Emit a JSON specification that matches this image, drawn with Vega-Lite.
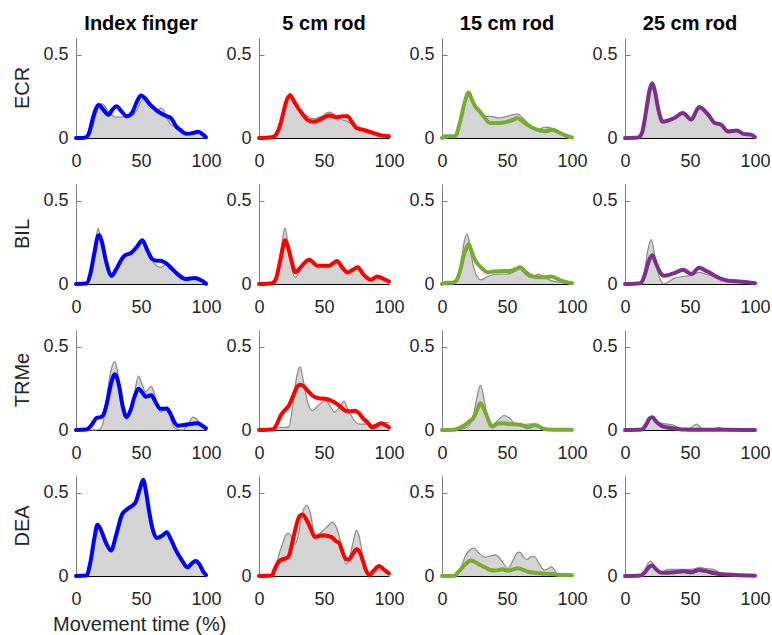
{
"$schema":"https://vega.github.io/schema/vega-lite/v6.json",
"padding":{"left":13,"top":14,"right":0,"bottom":0},
"data":{"values":[
{"m":"ECR","c":"Index finger","x":0,"g":0,"v":0},{"m":"ECR","c":"Index finger","x":5,"g":0,"v":0},{"m":"ECR","c":"Index finger","x":8,"g":0,"v":0.005},{"m":"ECR","c":"Index finger","x":10,"g":0.01,"v":0.03},{"m":"ECR","c":"Index finger","x":13,"g":0.07,"v":0.12},{"m":"ECR","c":"Index finger","x":15,"g":0.13,"v":0.17},{"m":"ECR","c":"Index finger","x":17.5,"g":0.19,"v":0.2},{"m":"ECR","c":"Index finger","x":20,"g":0.205,"v":0.18},{"m":"ECR","c":"Index finger","x":25,"g":0.16,"v":0.14},{"m":"ECR","c":"Index finger","x":28,"g":0.135,"v":0.17},{"m":"ECR","c":"Index finger","x":31,"g":0.125,"v":0.19},{"m":"ECR","c":"Index finger","x":35,"g":0.125,"v":0.16},{"m":"ECR","c":"Index finger","x":39,"g":0.13,"v":0.13},{"m":"ECR","c":"Index finger","x":43,"g":0.135,"v":0.15},{"m":"ECR","c":"Index finger","x":47,"g":0.17,"v":0.22},{"m":"ECR","c":"Index finger","x":50,"g":0.22,"v":0.255},{"m":"ECR","c":"Index finger","x":53,"g":0.24,"v":0.24},{"m":"ECR","c":"Index finger","x":57,"g":0.19,"v":0.2},{"m":"ECR","c":"Index finger","x":60,"g":0.17,"v":0.18},{"m":"ECR","c":"Index finger","x":63,"g":0.17,"v":0.16},{"m":"ECR","c":"Index finger","x":66,"g":0.18,"v":0.145},{"m":"ECR","c":"Index finger","x":70,"g":0.12,"v":0.13},{"m":"ECR","c":"Index finger","x":73,"g":0.08,"v":0.12},{"m":"ECR","c":"Index finger","x":77,"g":0.065,"v":0.07},{"m":"ECR","c":"Index finger","x":80,"g":0.045,"v":0.05},{"m":"ECR","c":"Index finger","x":85,"g":0.025,"v":0.025},{"m":"ECR","c":"Index finger","x":90,"g":0.03,"v":0.03},{"m":"ECR","c":"Index finger","x":94,"g":0.035,"v":0.037},{"m":"ECR","c":"Index finger","x":97,"g":0.02,"v":0.025},{"m":"ECR","c":"Index finger","x":100,"g":0.005,"v":0.005},
{"m":"ECR","c":"5 cm rod","x":0,"g":0,"v":0},{"m":"ECR","c":"5 cm rod","x":10,"g":0,"v":0.005},{"m":"ECR","c":"5 cm rod","x":13,"g":0.01,"v":0.02},{"m":"ECR","c":"5 cm rod","x":16,"g":0.05,"v":0.07},{"m":"ECR","c":"5 cm rod","x":19,"g":0.15,"v":0.16},{"m":"ECR","c":"5 cm rod","x":21,"g":0.22,"v":0.22},{"m":"ECR","c":"5 cm rod","x":24,"g":0.27,"v":0.255},{"m":"ECR","c":"5 cm rod","x":27,"g":0.22,"v":0.22},{"m":"ECR","c":"5 cm rod","x":30,"g":0.18,"v":0.18},{"m":"ECR","c":"5 cm rod","x":33,"g":0.15,"v":0.15},{"m":"ECR","c":"5 cm rod","x":37,"g":0.13,"v":0.11},{"m":"ECR","c":"5 cm rod","x":42,"g":0.115,"v":0.097},{"m":"ECR","c":"5 cm rod","x":48,"g":0.13,"v":0.115},{"m":"ECR","c":"5 cm rod","x":54,"g":0.155,"v":0.135},{"m":"ECR","c":"5 cm rod","x":60,"g":0.13,"v":0.125},{"m":"ECR","c":"5 cm rod","x":64,"g":0.11,"v":0.13},{"m":"ECR","c":"5 cm rod","x":68,"g":0.1,"v":0.13},{"m":"ECR","c":"5 cm rod","x":72,"g":0.08,"v":0.09},{"m":"ECR","c":"5 cm rod","x":75,"g":0.07,"v":0.06},{"m":"ECR","c":"5 cm rod","x":80,"g":0.05,"v":0.05},{"m":"ECR","c":"5 cm rod","x":84,"g":0.035,"v":0.04},{"m":"ECR","c":"5 cm rod","x":90,"g":0.02,"v":0.025},{"m":"ECR","c":"5 cm rod","x":94,"g":0.015,"v":0.016},{"m":"ECR","c":"5 cm rod","x":100,"g":0.01,"v":0.01},
{"m":"ECR","c":"15 cm rod","x":0,"g":0,"v":0},{"m":"ECR","c":"15 cm rod","x":3,"g":0.005,"v":0.01},{"m":"ECR","c":"15 cm rod","x":7,"g":0.005,"v":0.01},{"m":"ECR","c":"15 cm rod","x":10,"g":0.01,"v":0.01},{"m":"ECR","c":"15 cm rod","x":14,"g":0.1,"v":0.1},{"m":"ECR","c":"15 cm rod","x":17,"g":0.2,"v":0.2},{"m":"ECR","c":"15 cm rod","x":20.5,"g":0.28,"v":0.273},{"m":"ECR","c":"15 cm rod","x":23,"g":0.24,"v":0.23},{"m":"ECR","c":"15 cm rod","x":26,"g":0.19,"v":0.186},{"m":"ECR","c":"15 cm rod","x":29,"g":0.16,"v":0.16},{"m":"ECR","c":"15 cm rod","x":32,"g":0.13,"v":0.13},{"m":"ECR","c":"15 cm rod","x":37,"g":0.13,"v":0.09},{"m":"ECR","c":"15 cm rod","x":44,"g":0.12,"v":0.09},{"m":"ECR","c":"15 cm rod","x":50,"g":0.13,"v":0.097},{"m":"ECR","c":"15 cm rod","x":55,"g":0.14,"v":0.11},{"m":"ECR","c":"15 cm rod","x":58,"g":0.145,"v":0.12},{"m":"ECR","c":"15 cm rod","x":62,"g":0.12,"v":0.1},{"m":"ECR","c":"15 cm rod","x":66,"g":0.09,"v":0.077},{"m":"ECR","c":"15 cm rod","x":73,"g":0.045,"v":0.05},{"m":"ECR","c":"15 cm rod","x":79,"g":0.065,"v":0.04},{"m":"ECR","c":"15 cm rod","x":85,"g":0.057,"v":0.05},{"m":"ECR","c":"15 cm rod","x":91,"g":0.028,"v":0.03},{"m":"ECR","c":"15 cm rod","x":96,"g":0.01,"v":0.012},{"m":"ECR","c":"15 cm rod","x":100,"g":0.003,"v":0.003},
{"m":"ECR","c":"25 cm rod","x":0,"g":0,"v":0},{"m":"ECR","c":"25 cm rod","x":10,"g":0.003,"v":0.003},{"m":"ECR","c":"25 cm rod","x":13,"g":0.03,"v":0.03},{"m":"ECR","c":"25 cm rod","x":16,"g":0.15,"v":0.15},{"m":"ECR","c":"25 cm rod","x":19,"g":0.29,"v":0.29},{"m":"ECR","c":"25 cm rod","x":21,"g":0.32,"v":0.328},{"m":"ECR","c":"25 cm rod","x":23,"g":0.27,"v":0.28},{"m":"ECR","c":"25 cm rod","x":26,"g":0.15,"v":0.16},{"m":"ECR","c":"25 cm rod","x":29,"g":0.1,"v":0.097},{"m":"ECR","c":"25 cm rod","x":33,"g":0.105,"v":0.105},{"m":"ECR","c":"25 cm rod","x":38,"g":0.12,"v":0.12},{"m":"ECR","c":"25 cm rod","x":44.5,"g":0.145,"v":0.15},{"m":"ECR","c":"25 cm rod","x":51,"g":0.105,"v":0.11},{"m":"ECR","c":"25 cm rod","x":57,"g":0.175,"v":0.186},{"m":"ECR","c":"25 cm rod","x":64,"g":0.13,"v":0.14},{"m":"ECR","c":"25 cm rod","x":69,"g":0.085,"v":0.09},{"m":"ECR","c":"25 cm rod","x":74,"g":0.075,"v":0.08},{"m":"ECR","c":"25 cm rod","x":79,"g":0.03,"v":0.04},{"m":"ECR","c":"25 cm rod","x":86,"g":0.04,"v":0.045},{"m":"ECR","c":"25 cm rod","x":91,"g":0.02,"v":0.025},{"m":"ECR","c":"25 cm rod","x":97,"g":0.015,"v":0.02},{"m":"ECR","c":"25 cm rod","x":100,"g":0.005,"v":0.005},
{"m":"BIL","c":"Index finger","x":0,"g":0,"v":0},{"m":"BIL","c":"Index finger","x":8,"g":0,"v":0.003},{"m":"BIL","c":"Index finger","x":11,"g":0.04,"v":0.06},{"m":"BIL","c":"Index finger","x":14,"g":0.18,"v":0.18},{"m":"BIL","c":"Index finger","x":17,"g":0.334,"v":0.29},{"m":"BIL","c":"Index finger","x":18,"g":0.31,"v":0.293},{"m":"BIL","c":"Index finger","x":20,"g":0.24,"v":0.25},{"m":"BIL","c":"Index finger","x":23,"g":0.12,"v":0.14},{"m":"BIL","c":"Index finger","x":27.5,"g":0.04,"v":0.05},{"m":"BIL","c":"Index finger","x":31,"g":0.08,"v":0.09},{"m":"BIL","c":"Index finger","x":36.7,"g":0.16,"v":0.166},{"m":"BIL","c":"Index finger","x":43,"g":0.185,"v":0.19},{"m":"BIL","c":"Index finger","x":47,"g":0.22,"v":0.225},{"m":"BIL","c":"Index finger","x":51,"g":0.255,"v":0.263},{"m":"BIL","c":"Index finger","x":55,"g":0.2,"v":0.2},{"m":"BIL","c":"Index finger","x":58.6,"g":0.14,"v":0.15},{"m":"BIL","c":"Index finger","x":62,"g":0.11,"v":0.14},{"m":"BIL","c":"Index finger","x":65,"g":0.1,"v":0.14},{"m":"BIL","c":"Index finger","x":70,"g":0.12,"v":0.12},{"m":"BIL","c":"Index finger","x":74,"g":0.09,"v":0.09},{"m":"BIL","c":"Index finger","x":78,"g":0.05,"v":0.06},{"m":"BIL","c":"Index finger","x":84.5,"g":0.03,"v":0.03},{"m":"BIL","c":"Index finger","x":91,"g":0.036,"v":0.036},{"m":"BIL","c":"Index finger","x":96,"g":0.024,"v":0.024},{"m":"BIL","c":"Index finger","x":100,"g":0,"v":0.002},
{"m":"BIL","c":"5 cm rod","x":0,"g":0,"v":0},{"m":"BIL","c":"5 cm rod","x":10,"g":0,"v":0.005},{"m":"BIL","c":"5 cm rod","x":13,"g":0.03,"v":0.03},{"m":"BIL","c":"5 cm rod","x":16,"g":0.15,"v":0.13},{"m":"BIL","c":"5 cm rod","x":19,"g":0.31,"v":0.24},{"m":"BIL","c":"5 cm rod","x":20,"g":0.335,"v":0.263},{"m":"BIL","c":"5 cm rod","x":22,"g":0.26,"v":0.23},{"m":"BIL","c":"5 cm rod","x":25,"g":0.1,"v":0.14},{"m":"BIL","c":"5 cm rod","x":28,"g":0.04,"v":0.07},{"m":"BIL","c":"5 cm rod","x":32,"g":0.09,"v":0.1},{"m":"BIL","c":"5 cm rod","x":38.6,"g":0.146,"v":0.146},{"m":"BIL","c":"5 cm rod","x":45,"g":0.11,"v":0.11},{"m":"BIL","c":"5 cm rod","x":54,"g":0.11,"v":0.11},{"m":"BIL","c":"5 cm rod","x":60,"g":0.14,"v":0.138},{"m":"BIL","c":"5 cm rod","x":64,"g":0.1,"v":0.1},{"m":"BIL","c":"5 cm rod","x":68,"g":0.06,"v":0.07},{"m":"BIL","c":"5 cm rod","x":72,"g":0.08,"v":0.085},{"m":"BIL","c":"5 cm rod","x":76,"g":0.1,"v":0.1},{"m":"BIL","c":"5 cm rod","x":80,"g":0.06,"v":0.06},{"m":"BIL","c":"5 cm rod","x":86,"g":0.02,"v":0.025},{"m":"BIL","c":"5 cm rod","x":91,"g":0.045,"v":0.045},{"m":"BIL","c":"5 cm rod","x":96,"g":0.03,"v":0.03},{"m":"BIL","c":"5 cm rod","x":100,"g":0.015,"v":0.015},
{"m":"BIL","c":"15 cm rod","x":0,"g":0,"v":0},{"m":"BIL","c":"15 cm rod","x":3,"g":0.005,"v":0.008},{"m":"BIL","c":"15 cm rod","x":8,"g":0.005,"v":0.008},{"m":"BIL","c":"15 cm rod","x":11,"g":0.02,"v":0.02},{"m":"BIL","c":"15 cm rod","x":14,"g":0.1,"v":0.08},{"m":"BIL","c":"15 cm rod","x":17,"g":0.25,"v":0.18},{"m":"BIL","c":"15 cm rod","x":19,"g":0.3,"v":0.22},{"m":"BIL","c":"15 cm rod","x":20.6,"g":0.27,"v":0.24},{"m":"BIL","c":"15 cm rod","x":23,"g":0.15,"v":0.19},{"m":"BIL","c":"15 cm rod","x":26,"g":0.06,"v":0.136},{"m":"BIL","c":"15 cm rod","x":30,"g":0.025,"v":0.1},{"m":"BIL","c":"15 cm rod","x":35,"g":0.045,"v":0.07},{"m":"BIL","c":"15 cm rod","x":40,"g":0.057,"v":0.075},{"m":"BIL","c":"15 cm rod","x":45,"g":0.06,"v":0.077},{"m":"BIL","c":"15 cm rod","x":50,"g":0.06,"v":0.078},{"m":"BIL","c":"15 cm rod","x":53,"g":0.065,"v":0.08},{"m":"BIL","c":"15 cm rod","x":57,"g":0.08,"v":0.09},{"m":"BIL","c":"15 cm rod","x":60,"g":0.09,"v":0.1},{"m":"BIL","c":"15 cm rod","x":64,"g":0.06,"v":0.075},{"m":"BIL","c":"15 cm rod","x":68,"g":0.04,"v":0.05},{"m":"BIL","c":"15 cm rod","x":74,"g":0.06,"v":0.04},{"m":"BIL","c":"15 cm rod","x":79,"g":0.04,"v":0.04},{"m":"BIL","c":"15 cm rod","x":84,"g":0.02,"v":0.045},{"m":"BIL","c":"15 cm rod","x":91.5,"g":0.01,"v":0.02},{"m":"BIL","c":"15 cm rod","x":100,"g":0.002,"v":0.004},
{"m":"BIL","c":"25 cm rod","x":0,"g":0,"v":0},{"m":"BIL","c":"25 cm rod","x":12,"g":0.005,"v":0.005},{"m":"BIL","c":"25 cm rod","x":15,"g":0.08,"v":0.05},{"m":"BIL","c":"25 cm rod","x":18,"g":0.22,"v":0.13},{"m":"BIL","c":"25 cm rod","x":20,"g":0.267,"v":0.165},{"m":"BIL","c":"25 cm rod","x":21,"g":0.25,"v":0.172},{"m":"BIL","c":"25 cm rod","x":24,"g":0.12,"v":0.12},{"m":"BIL","c":"25 cm rod","x":27,"g":0.03,"v":0.07},{"m":"BIL","c":"25 cm rod","x":30,"g":0,"v":0.05},{"m":"BIL","c":"25 cm rod","x":34,"g":0.015,"v":0.055},{"m":"BIL","c":"25 cm rod","x":38,"g":0.035,"v":0.065},{"m":"BIL","c":"25 cm rod","x":44.6,"g":0.045,"v":0.085},{"m":"BIL","c":"25 cm rod","x":51,"g":0.05,"v":0.06},{"m":"BIL","c":"25 cm rod","x":57,"g":0.07,"v":0.097},{"m":"BIL","c":"25 cm rod","x":62,"g":0.06,"v":0.08},{"m":"BIL","c":"25 cm rod","x":66,"g":0.05,"v":0.065},{"m":"BIL","c":"25 cm rod","x":70,"g":0.045,"v":0.045},{"m":"BIL","c":"25 cm rod","x":79,"g":0.02,"v":0.02},{"m":"BIL","c":"25 cm rod","x":90,"g":0.01,"v":0.014},{"m":"BIL","c":"25 cm rod","x":100,"g":0.003,"v":0.005},
{"m":"TRMe","c":"Index finger","x":0,"g":0,"v":0},{"m":"TRMe","c":"Index finger","x":8,"g":0,"v":0.003},{"m":"TRMe","c":"Index finger","x":12,"g":0,"v":0.03},{"m":"TRMe","c":"Index finger","x":16,"g":0,"v":0.073},{"m":"TRMe","c":"Index finger","x":19,"g":0.01,"v":0.077},{"m":"TRMe","c":"Index finger","x":21,"g":0.05,"v":0.09},{"m":"TRMe","c":"Index finger","x":24,"g":0.22,"v":0.17},{"m":"TRMe","c":"Index finger","x":27,"g":0.36,"v":0.28},{"m":"TRMe","c":"Index finger","x":30,"g":0.41,"v":0.335},{"m":"TRMe","c":"Index finger","x":33,"g":0.3,"v":0.27},{"m":"TRMe","c":"Index finger","x":36,"g":0.15,"v":0.14},{"m":"TRMe","c":"Index finger","x":38.8,"g":0.07,"v":0.077},{"m":"TRMe","c":"Index finger","x":42,"g":0.1,"v":0.12},{"m":"TRMe","c":"Index finger","x":45,"g":0.22,"v":0.2},{"m":"TRMe","c":"Index finger","x":48,"g":0.323,"v":0.248},{"m":"TRMe","c":"Index finger","x":51,"g":0.27,"v":0.225},{"m":"TRMe","c":"Index finger","x":53.5,"g":0.23,"v":0.2},{"m":"TRMe","c":"Index finger","x":58,"g":0.262,"v":0.208},{"m":"TRMe","c":"Index finger","x":61,"g":0.2,"v":0.17},{"m":"TRMe","c":"Index finger","x":65,"g":0.107,"v":0.127},{"m":"TRMe","c":"Index finger","x":70,"g":0.14,"v":0.127},{"m":"TRMe","c":"Index finger","x":72.5,"g":0.08,"v":0.1},{"m":"TRMe","c":"Index finger","x":75.5,"g":0.016,"v":0.05},{"m":"TRMe","c":"Index finger","x":78,"g":0.005,"v":0.026},{"m":"TRMe","c":"Index finger","x":82,"g":0,"v":0.028},{"m":"TRMe","c":"Index finger","x":86,"g":0.03,"v":0.034},{"m":"TRMe","c":"Index finger","x":90,"g":0.077,"v":0.038},{"m":"TRMe","c":"Index finger","x":93.5,"g":0.06,"v":0.04},{"m":"TRMe","c":"Index finger","x":96,"g":0.032,"v":0.032},{"m":"TRMe","c":"Index finger","x":100,"g":0.01,"v":0.01},
{"m":"TRMe","c":"5 cm rod","x":0,"g":0,"v":0},{"m":"TRMe","c":"5 cm rod","x":11,"g":0,"v":0.005},{"m":"TRMe","c":"5 cm rod","x":14,"g":0.01,"v":0.04},{"m":"TRMe","c":"5 cm rod","x":16.7,"g":0.015,"v":0.087},{"m":"TRMe","c":"5 cm rod","x":20,"g":0.015,"v":0.12},{"m":"TRMe","c":"5 cm rod","x":23,"g":0.02,"v":0.147},{"m":"TRMe","c":"5 cm rod","x":26,"g":0.15,"v":0.2},{"m":"TRMe","c":"5 cm rod","x":29,"g":0.32,"v":0.255},{"m":"TRMe","c":"5 cm rod","x":31.6,"g":0.38,"v":0.272},{"m":"TRMe","c":"5 cm rod","x":34,"g":0.3,"v":0.265},{"m":"TRMe","c":"5 cm rod","x":37,"g":0.18,"v":0.24},{"m":"TRMe","c":"5 cm rod","x":41,"g":0.117,"v":0.207},{"m":"TRMe","c":"5 cm rod","x":46,"g":0.15,"v":0.19},{"m":"TRMe","c":"5 cm rod","x":51,"g":0.177,"v":0.187},{"m":"TRMe","c":"5 cm rod","x":55,"g":0.14,"v":0.178},{"m":"TRMe","c":"5 cm rod","x":58,"g":0.107,"v":0.167},{"m":"TRMe","c":"5 cm rod","x":62,"g":0.14,"v":0.145},{"m":"TRMe","c":"5 cm rod","x":65.5,"g":0.173,"v":0.12},{"m":"TRMe","c":"5 cm rod","x":68,"g":0.13,"v":0.113},{"m":"TRMe","c":"5 cm rod","x":71,"g":0.087,"v":0.112},{"m":"TRMe","c":"5 cm rod","x":74,"g":0.05,"v":0.115},{"m":"TRMe","c":"5 cm rod","x":77,"g":0.036,"v":0.1},{"m":"TRMe","c":"5 cm rod","x":80,"g":0.035,"v":0.07},{"m":"TRMe","c":"5 cm rod","x":83.5,"g":0.035,"v":0.046},{"m":"TRMe","c":"5 cm rod","x":87,"g":0.03,"v":0.016},{"m":"TRMe","c":"5 cm rod","x":90,"g":0.035,"v":0.025},{"m":"TRMe","c":"5 cm rod","x":94,"g":0.045,"v":0.04},{"m":"TRMe","c":"5 cm rod","x":97,"g":0.045,"v":0.03},{"m":"TRMe","c":"5 cm rod","x":100,"g":0.045,"v":0.016},
{"m":"TRMe","c":"15 cm rod","x":0,"g":0,"v":0},{"m":"TRMe","c":"15 cm rod","x":10,"g":0,"v":0.002},{"m":"TRMe","c":"15 cm rod","x":14,"g":0.005,"v":0.015},{"m":"TRMe","c":"15 cm rod","x":16.8,"g":0.01,"v":0.026},{"m":"TRMe","c":"15 cm rod","x":20,"g":0.02,"v":0.045},{"m":"TRMe","c":"15 cm rod","x":24.5,"g":0.1,"v":0.077},{"m":"TRMe","c":"15 cm rod","x":27,"g":0.2,"v":0.12},{"m":"TRMe","c":"15 cm rod","x":29.6,"g":0.268,"v":0.16},{"m":"TRMe","c":"15 cm rod","x":32,"g":0.2,"v":0.13},{"m":"TRMe","c":"15 cm rod","x":34,"g":0.11,"v":0.095},{"m":"TRMe","c":"15 cm rod","x":37,"g":0.03,"v":0.035},{"m":"TRMe","c":"15 cm rod","x":38.7,"g":0.03,"v":0.02},{"m":"TRMe","c":"15 cm rod","x":42,"g":0.05,"v":0.035},{"m":"TRMe","c":"15 cm rod","x":47.7,"g":0.087,"v":0.04},{"m":"TRMe","c":"15 cm rod","x":51.5,"g":0.075,"v":0.036},{"m":"TRMe","c":"15 cm rod","x":57,"g":0.032,"v":0.034},{"m":"TRMe","c":"15 cm rod","x":60.6,"g":0.03,"v":0.032},{"m":"TRMe","c":"15 cm rod","x":66,"g":0.036,"v":0.016},{"m":"TRMe","c":"15 cm rod","x":71,"g":0.036,"v":0.03},{"m":"TRMe","c":"15 cm rod","x":74,"g":0.02,"v":0.025},{"m":"TRMe","c":"15 cm rod","x":78.6,"g":0.008,"v":0.006},{"m":"TRMe","c":"15 cm rod","x":85,"g":0.002,"v":0.002},{"m":"TRMe","c":"15 cm rod","x":100,"g":0,"v":0.001},
{"m":"TRMe","c":"25 cm rod","x":0,"g":0,"v":0},{"m":"TRMe","c":"25 cm rod","x":13,"g":0.003,"v":0.003},{"m":"TRMe","c":"25 cm rod","x":16,"g":0.03,"v":0.03},{"m":"TRMe","c":"25 cm rod","x":19,"g":0.07,"v":0.07},{"m":"TRMe","c":"25 cm rod","x":21,"g":0.075,"v":0.077},{"m":"TRMe","c":"25 cm rod","x":24,"g":0.055,"v":0.05},{"m":"TRMe","c":"25 cm rod","x":28,"g":0.04,"v":0.026},{"m":"TRMe","c":"25 cm rod","x":33,"g":0.035,"v":0.015},{"m":"TRMe","c":"25 cm rod","x":37,"g":0.03,"v":0.01},{"m":"TRMe","c":"25 cm rod","x":42,"g":0.01,"v":0.005},{"m":"TRMe","c":"25 cm rod","x":46,"g":0.005,"v":0.003},{"m":"TRMe","c":"25 cm rod","x":51,"g":0.015,"v":0.002},{"m":"TRMe","c":"25 cm rod","x":55,"g":0.035,"v":0.002},{"m":"TRMe","c":"25 cm rod","x":59,"g":0.01,"v":0.002},{"m":"TRMe","c":"25 cm rod","x":66,"g":0.005,"v":0.001},{"m":"TRMe","c":"25 cm rod","x":72,"g":0.015,"v":0.001},{"m":"TRMe","c":"25 cm rod","x":78,"g":0.002,"v":0.001},{"m":"TRMe","c":"25 cm rod","x":100,"g":0,"v":0},
{"m":"DEA","c":"Index finger","x":0,"g":0,"v":0},{"m":"DEA","c":"Index finger","x":8,"g":0,"v":0.003},{"m":"DEA","c":"Index finger","x":11,"g":0.07,"v":0.08},{"m":"DEA","c":"Index finger","x":14,"g":0.22,"v":0.22},{"m":"DEA","c":"Index finger","x":16.5,"g":0.308,"v":0.308},{"m":"DEA","c":"Index finger","x":19,"g":0.28,"v":0.28},{"m":"DEA","c":"Index finger","x":23,"g":0.2,"v":0.2},{"m":"DEA","c":"Index finger","x":27,"g":0.153,"v":0.153},{"m":"DEA","c":"Index finger","x":31,"g":0.25,"v":0.25},{"m":"DEA","c":"Index finger","x":35.4,"g":0.369,"v":0.369},{"m":"DEA","c":"Index finger","x":40,"g":0.405,"v":0.405},{"m":"DEA","c":"Index finger","x":45.7,"g":0.44,"v":0.44},{"m":"DEA","c":"Index finger","x":49,"g":0.52,"v":0.52},{"m":"DEA","c":"Index finger","x":51.7,"g":0.578,"v":0.577},{"m":"DEA","c":"Index finger","x":54,"g":0.5,"v":0.5},{"m":"DEA","c":"Index finger","x":56,"g":0.4,"v":0.4},{"m":"DEA","c":"Index finger","x":59,"g":0.28,"v":0.28},{"m":"DEA","c":"Index finger","x":62,"g":0.225,"v":0.228},{"m":"DEA","c":"Index finger","x":66,"g":0.24,"v":0.24},{"m":"DEA","c":"Index finger","x":69.8,"g":0.265,"v":0.262},{"m":"DEA","c":"Index finger","x":73,"g":0.22,"v":0.22},{"m":"DEA","c":"Index finger","x":76.7,"g":0.157,"v":0.157},{"m":"DEA","c":"Index finger","x":81,"g":0.1,"v":0.1},{"m":"DEA","c":"Index finger","x":85.8,"g":0.052,"v":0.052},{"m":"DEA","c":"Index finger","x":89,"g":0.075,"v":0.075},{"m":"DEA","c":"Index finger","x":92,"g":0.09,"v":0.09},{"m":"DEA","c":"Index finger","x":95,"g":0.07,"v":0.07},{"m":"DEA","c":"Index finger","x":98,"g":0.025,"v":0.025},{"m":"DEA","c":"Index finger","x":100,"g":0.006,"v":0.006},
{"m":"DEA","c":"5 cm rod","x":0,"g":0,"v":0},{"m":"DEA","c":"5 cm rod","x":10,"g":0,"v":0.003},{"m":"DEA","c":"5 cm rod","x":12,"g":0.02,"v":0.04},{"m":"DEA","c":"5 cm rod","x":15,"g":0.12,"v":0.085},{"m":"DEA","c":"5 cm rod","x":18,"g":0.19,"v":0.1},{"m":"DEA","c":"5 cm rod","x":20.5,"g":0.245,"v":0.105},{"m":"DEA","c":"5 cm rod","x":23,"g":0.258,"v":0.12},{"m":"DEA","c":"5 cm rod","x":25,"g":0.235,"v":0.18},{"m":"DEA","c":"5 cm rod","x":28,"g":0.19,"v":0.28},{"m":"DEA","c":"5 cm rod","x":30.5,"g":0.26,"v":0.35},{"m":"DEA","c":"5 cm rod","x":33.4,"g":0.38,"v":0.369},{"m":"DEA","c":"5 cm rod","x":37,"g":0.423,"v":0.33},{"m":"DEA","c":"5 cm rod","x":40,"g":0.36,"v":0.28},{"m":"DEA","c":"5 cm rod","x":43,"g":0.228,"v":0.234},{"m":"DEA","c":"5 cm rod","x":46,"g":0.25,"v":0.24},{"m":"DEA","c":"5 cm rod","x":50,"g":0.278,"v":0.245},{"m":"DEA","c":"5 cm rod","x":53,"g":0.3,"v":0.24},{"m":"DEA","c":"5 cm rod","x":56.5,"g":0.323,"v":0.23},{"m":"DEA","c":"5 cm rod","x":59,"g":0.3,"v":0.21},{"m":"DEA","c":"5 cm rod","x":61.7,"g":0.24,"v":0.198},{"m":"DEA","c":"5 cm rod","x":64,"g":0.15,"v":0.15},{"m":"DEA","c":"5 cm rod","x":67,"g":0.073,"v":0.1},{"m":"DEA","c":"5 cm rod","x":69,"g":0.09,"v":0.1},{"m":"DEA","c":"5 cm rod","x":72,"g":0.19,"v":0.13},{"m":"DEA","c":"5 cm rod","x":75,"g":0.274,"v":0.16},{"m":"DEA","c":"5 cm rod","x":77,"g":0.24,"v":0.15},{"m":"DEA","c":"5 cm rod","x":79.7,"g":0.12,"v":0.097},{"m":"DEA","c":"5 cm rod","x":82,"g":0.032,"v":0.04},{"m":"DEA","c":"5 cm rod","x":84.8,"g":0.01,"v":0.006},{"m":"DEA","c":"5 cm rod","x":88,"g":0.035,"v":0.03},{"m":"DEA","c":"5 cm rod","x":92.5,"g":0.06,"v":0.06},{"m":"DEA","c":"5 cm rod","x":96,"g":0.04,"v":0.04},{"m":"DEA","c":"5 cm rod","x":100,"g":0.016,"v":0.016},
{"m":"DEA","c":"15 cm rod","x":0,"g":0,"v":0},{"m":"DEA","c":"15 cm rod","x":10,"g":0,"v":0.002},{"m":"DEA","c":"15 cm rod","x":12,"g":0.01,"v":0.02},{"m":"DEA","c":"15 cm rod","x":15,"g":0.06,"v":0.045},{"m":"DEA","c":"15 cm rod","x":18,"g":0.12,"v":0.07},{"m":"DEA","c":"15 cm rod","x":22,"g":0.16,"v":0.093},{"m":"DEA","c":"15 cm rod","x":24.5,"g":0.167,"v":0.088},{"m":"DEA","c":"15 cm rod","x":28,"g":0.14,"v":0.072},{"m":"DEA","c":"15 cm rod","x":33.5,"g":0.113,"v":0.05},{"m":"DEA","c":"15 cm rod","x":37,"g":0.12,"v":0.036},{"m":"DEA","c":"15 cm rod","x":41,"g":0.127,"v":0.033},{"m":"DEA","c":"15 cm rod","x":44,"g":0.11,"v":0.036},{"m":"DEA","c":"15 cm rod","x":46.4,"g":0.085,"v":0.04},{"m":"DEA","c":"15 cm rod","x":50.8,"g":0.046,"v":0.032},{"m":"DEA","c":"15 cm rod","x":55,"g":0.1,"v":0.04},{"m":"DEA","c":"15 cm rod","x":58,"g":0.14,"v":0.046},{"m":"DEA","c":"15 cm rod","x":60,"g":0.143,"v":0.044},{"m":"DEA","c":"15 cm rod","x":63,"g":0.11,"v":0.035},{"m":"DEA","c":"15 cm rod","x":65.7,"g":0.1,"v":0.026},{"m":"DEA","c":"15 cm rod","x":68,"g":0.115,"v":0.022},{"m":"DEA","c":"15 cm rod","x":71,"g":0.117,"v":0.02},{"m":"DEA","c":"15 cm rod","x":75,"g":0.07,"v":0.016},{"m":"DEA","c":"15 cm rod","x":78.6,"g":0.036,"v":0.014},{"m":"DEA","c":"15 cm rod","x":82,"g":0.045,"v":0.013},{"m":"DEA","c":"15 cm rod","x":84,"g":0.056,"v":0.012},{"m":"DEA","c":"15 cm rod","x":87,"g":0.03,"v":0.01},{"m":"DEA","c":"15 cm rod","x":89,"g":0.006,"v":0.008},{"m":"DEA","c":"15 cm rod","x":95,"g":0.002,"v":0.006},{"m":"DEA","c":"15 cm rod","x":100,"g":0,"v":0.004},
{"m":"DEA","c":"25 cm rod","x":0,"g":0,"v":0},{"m":"DEA","c":"25 cm rod","x":12,"g":0.003,"v":0.003},{"m":"DEA","c":"25 cm rod","x":15,"g":0.03,"v":0.02},{"m":"DEA","c":"25 cm rod","x":17.5,"g":0.075,"v":0.045},{"m":"DEA","c":"25 cm rod","x":19.6,"g":0.09,"v":0.06},{"m":"DEA","c":"25 cm rod","x":21,"g":0.08,"v":0.063},{"m":"DEA","c":"25 cm rod","x":24,"g":0.04,"v":0.04},{"m":"DEA","c":"25 cm rod","x":28,"g":0.02,"v":0.02},{"m":"DEA","c":"25 cm rod","x":33,"g":0.04,"v":0.02},{"m":"DEA","c":"25 cm rod","x":38,"g":0.04,"v":0.022},{"m":"DEA","c":"25 cm rod","x":45,"g":0.04,"v":0.028},{"m":"DEA","c":"25 cm rod","x":51,"g":0.04,"v":0.022},{"m":"DEA","c":"25 cm rod","x":57,"g":0.05,"v":0.036},{"m":"DEA","c":"25 cm rod","x":62,"g":0.045,"v":0.03},{"m":"DEA","c":"25 cm rod","x":68,"g":0.04,"v":0.018},{"m":"DEA","c":"25 cm rod","x":75,"g":0.01,"v":0.01},{"m":"DEA","c":"25 cm rod","x":85,"g":0.005,"v":0.006},{"m":"DEA","c":"25 cm rod","x":100,"g":0,"v":0.002}
]},
"facet":{
"row":{"field":"m","type":"nominal","sort":["ECR","BIL","TRMe","DEA"],"header":{"title":null,"labelAngle":-90,"labelOrient":"left","labelFontSize":20,"labelFont":"Liberation Sans","labelColor":"#262626","labelPadding":33}},
"column":{"field":"c","type":"nominal","sort":["Index finger","5 cm rod","15 cm rod","25 cm rod"],"header":{"title":null,"labelFontSize":20,"labelFontWeight":"bold","labelFont":"Liberation Sans","labelColor":"#000000","labelPadding":4}}
},
"spacing":{"row":46,"column":53},
"bounds":"flush",
"resolve":{"axis":{"x":"independent","y":"independent"}},
"title":{"text":"Movement time (%)","orient":"bottom","anchor":"start","fontSize":20,"fontWeight":"normal","color":"#262626","font":"Liberation Sans","dx":40,"offset":7},
"spec":{
"width":130,"height":100,
"encoding":{"x":{"field":"x","type":"quantitative","title":null,"scale":{"domain":[0,100]},"axis":{"values":[0,50,100]}}},
"layer":[
{"mark":{"type":"area","color":"#d4d4d4","interpolate":"monotone"},"encoding":{"y":{"field":"g","type":"quantitative","title":null,"scale":{"domain":[0,0.6]},"axis":{"values":[0,0.5],"format":".1~f"}}}},
{"mark":{"type":"line","color":"#8a8a8a","strokeWidth":1.2,"interpolate":"monotone"},"encoding":{"y":{"field":"g","type":"quantitative","title":null,"scale":{"domain":[0,0.6]},"axis":{"values":[0,0.5],"format":".1~f"}}}},
{"mark":{"type":"line","strokeWidth":4,"interpolate":"monotone","strokeCap":"round","strokeJoin":"round"},"encoding":{"y":{"field":"v","type":"quantitative","title":null,"scale":{"domain":[0,0.6]},"axis":{"values":[0,0.5],"format":".1~f"}},"color":{"field":"c","type":"nominal","scale":{"domain":["Index finger","5 cm rod","15 cm rod","25 cm rod"],"range":["#0000ff","#ff0000","#77ac30","#7e2f8e"]},"legend":null}}}
]
},
"config":{
"view":{"stroke":null},
"font":"Liberation Sans",
"axis":{"grid":false,"labelFont":"Liberation Sans","labelFontSize":18,"labelColor":"#262626","labelFlush":false,"labelOverlap":false,"domainWidth":1},
"axisX":{"ticks":false,"labelPadding":14,"domainColor":"#000000"},
"axisY":{"tickSize":-5,"tickColor":"#808080","domainColor":"#808080","labelPadding":13}
}
}
